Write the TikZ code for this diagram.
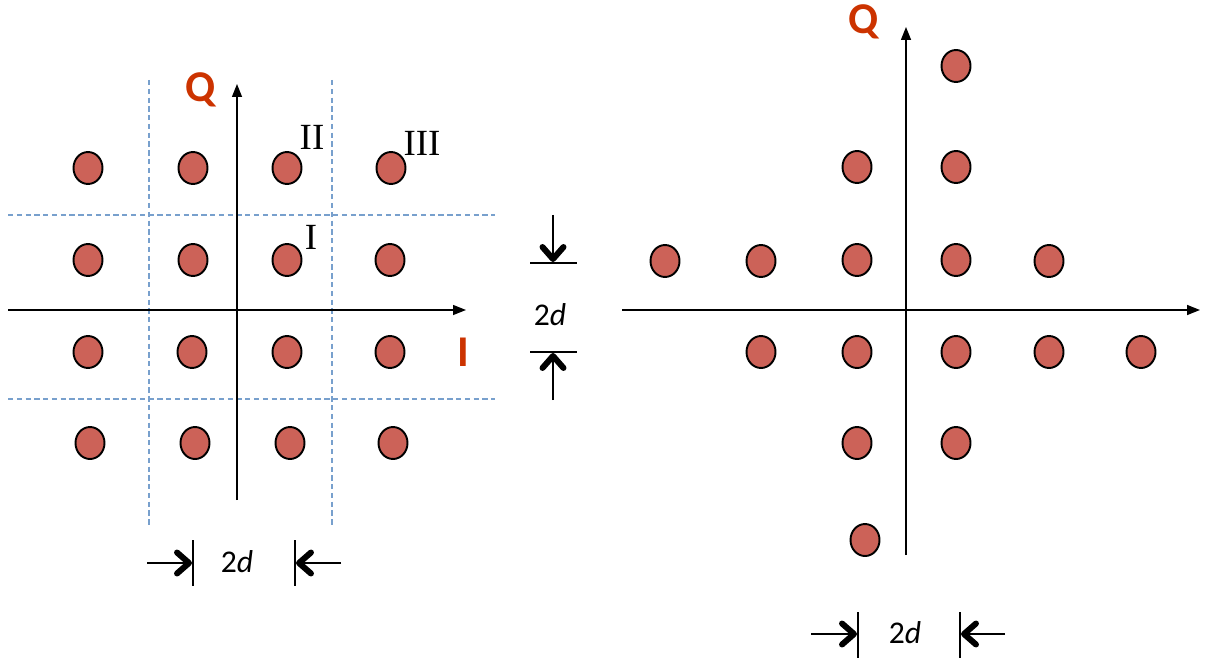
\documentclass[tikz,border=0pt]{standalone}
\usepackage{fontspec}
\setmainfont{Liberation Serif}
\setsansfont{Carlito}
\usetikzlibrary{arrows.meta,shapes.geometric}
\definecolor{dotred}{RGB}{204,98,88}
\definecolor{lblred}{RGB}{204,51,0}
\definecolor{gridblue}{RGB}{120,160,205}

\begin{document}
\begin{tikzpicture}[x=0.02cm, y=-0.02cm,
  every node/.style={inner sep=0pt},
  pt/.style={ellipse, draw, line width=1.1pt, fill=dotred, minimum width=0.58cm, minimum height=0.64cm},
  axis/.style={line width=0.8pt, -{Triangle[length=0.26cm, width=0.2cm]}},
  gridline/.style={gridblue, line width=0.7pt, dash pattern=on 3pt off 2pt},
  dimarrow/.style={line width=0.8pt, -{Straight Barb[length=0.24cm, width=0.42cm, line width=3.4pt, round]}},
  dimtick/.style={line width=0.8pt},
  axlabel/.style={font=\sffamily\bfseries\fontsize{25}{27}\selectfont, text=lblred},
  dimlabel/.style={font=\sffamily\fontsize{18}{19}\selectfont},
  regionlabel/.style={font=\fontsize{21}{22}\selectfont}]
  \useasboundingbox (0,0) rectangle (1222,658);

  % Left: square 16 points with decision regions
  \draw[gridline] (149,80) -- (149,525);
  \draw[gridline] (332,80) -- (332,525);
  \draw[gridline] (8,215) -- (495,215);
  \draw[gridline] (8,399) -- (495,399);
  \coordinate (LIa) at (8,310);
  \coordinate (LIb) at (466,310);
  \coordinate (LQa) at (237,500);
  \coordinate (LQb) at (237,84);
  \draw[axis] (LIa) -- (LIb);
  \draw[axis] (LQa) -- (LQb);
  \node[axlabel] (LQ) at (201,90) {Q};
  \node[axlabel] (LI) at (463,352) {I};
  \node[regionlabel] (rII) at (312,137) {II};
  \node[regionlabel] (rIII) at (422,143) {III};
  \node[regionlabel] (rI) at (311,237) {I};

  \node[pt] (a11) at (88,168) {};  \node[pt] (a12) at (193,168) {};
  \node[pt] (a13) at (287,168) {}; \node[pt] (a14) at (391,168) {};
  \node[pt] (a21) at (88,260) {};  \node[pt] (a22) at (193,260) {};
  \node[pt] (a23) at (287,260) {}; \node[pt] (a24) at (390,260) {};
  \node[pt] (a31) at (88,352) {};  \node[pt] (a32) at (192,352) {};
  \node[pt] (a33) at (287,352) {}; \node[pt] (a34) at (390,352) {};
  \node[pt] (a41) at (90,443) {};  \node[pt] (a42) at (195,443) {};
  \node[pt] (a43) at (290,443) {}; \node[pt] (a44) at (393,443) {};

  % spacing marks under the left plot
  \coordinate (ta1) at (193,540); \coordinate (tb1) at (193,586);
  \coordinate (ta2) at (295,540); \coordinate (tb2) at (295,586);
  \draw[dimtick] (ta1) -- (tb1);
  \draw[dimtick] (ta2) -- (tb2);
  \coordinate (ha1) at (147,563); \coordinate (ha2) at (192,563);
  \coordinate (hb1) at (341,563); \coordinate (hb2) at (296,563);
  \draw[dimarrow] (ha1) -- (ha2);
  \draw[dimarrow] (hb1) -- (hb2);
  \node[dimlabel] (d1) at (237,562) {2\textit{d}};

  % vertical spacing marks in the middle
  \coordinate (tc1) at (530,263); \coordinate (tc2) at (577,263);
  \coordinate (td1) at (530,352); \coordinate (td2) at (577,352);
  \draw[dimtick] (tc1) -- (tc2);
  \draw[dimtick] (td1) -- (td2);
  \coordinate (va1) at (553,215); \coordinate (va2) at (553,262);
  \coordinate (vb1) at (553,400); \coordinate (vb2) at (553,353);
  \draw[dimarrow] (va1) -- (va2);
  \draw[dimarrow] (vb1) -- (vb2);
  \node[dimlabel] (d2) at (550,315) {2\textit{d}};

  % Right: cross-shaped 16 points
  \coordinate (RIa) at (622,310);
  \coordinate (RIb) at (1200,310);
  \coordinate (RQa) at (906,555);
  \coordinate (RQb) at (906,27);
  \draw[axis] (RIa) -- (RIb);
  \draw[axis] (RQa) -- (RQb);
  \node[axlabel] (RQ) at (864,22) {Q};
  \node[axlabel, anchor=west] (RI) at (1219,352) {I};

  \node[pt] (b1) at (956,66) {};
  \node[pt] (b2) at (857,167) {};  \node[pt] (b3) at (956,167) {};
  \node[pt] (b4) at (665,261) {};  \node[pt] (b5) at (761,261) {};
  \node[pt] (b6) at (857,260) {};  \node[pt] (b7) at (956,260) {};
  \node[pt] (b8) at (1049,261) {};
  \node[pt] (b9) at (761,352) {};  \node[pt] (b10) at (857,352) {};
  \node[pt] (b11) at (956,352) {}; \node[pt] (b12) at (1049,352) {};
  \node[pt] (b13) at (1141,352) {};
  \node[pt] (b14) at (857,443) {}; \node[pt] (b15) at (956,443) {};
  \node[pt] (b16) at (865,540) {};

  % spacing marks under the right plot
  \coordinate (te1) at (858,612); \coordinate (tf1) at (858,658);
  \coordinate (te2) at (960,612); \coordinate (tf2) at (960,658);
  \draw[dimtick] (te1) -- (tf1);
  \draw[dimtick] (te2) -- (tf2);
  \coordinate (hc1) at (811,634); \coordinate (hc2) at (857,634);
  \coordinate (hd1) at (1005,634); \coordinate (hd2) at (961,634);
  \draw[dimarrow] (hc1) -- (hc2);
  \draw[dimarrow] (hd1) -- (hd2);
  \node[dimlabel] (d3) at (905,633) {2\textit{d}};
\end{tikzpicture}
\end{document}
